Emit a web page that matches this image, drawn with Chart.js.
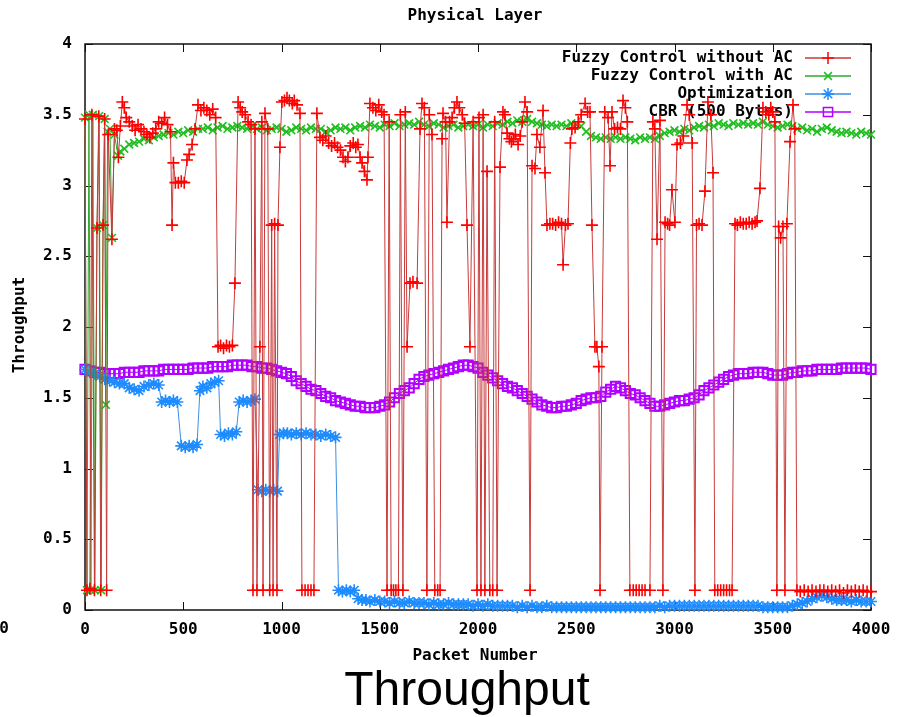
<!DOCTYPE html>
<html>
<head>
<meta charset="utf-8">
<script src="https://cdn.jsdelivr.net/npm/chart.js@4.4.0/dist/chart.umd.min.js"></script>
<style>
html, body { margin: 0; padding: 0; background: #fff; }
#wrap { width: 911px; height: 717px; }
</style>
</head>
<body>
<div id="wrap"><canvas id="chart" width="911" height="717"></canvas></div>
<script>
// tick values
const xTicks = [0, 500, 1000, 1500, 2000, 2500, 3000, 3500, 4000];
const yTicks = [0, 0.5, 1, 1.5, 2, 2.5, 3, 3.5, 4];

// Fuzzy Control without AC  [packet, throughput]
const fuzzyNoAC = [
  [0,3.47],[10,0.14],[25,0.15],[35,3.5],[48,0.14],[61,2.7],[70,3.49],[80,0.14],[92,2.72],[100,3.47],
  [110,0.14],[118,3.36],[137,2.62],[150,3.4],[162,3.39],[170,3.2],[180,3.42],[190,3.59],[200,3.55],[210,3.48],
  [225,3.45],[240,3.42],[255,3.39],[270,3.43],[285,3.4],[300,3.38],[315,3.36],[330,3.34],[345,3.37],[360,3.4],
  [375,3.45],[390,3.44],[405,3.48],[420,3.43],[435,3.38],[443,2.72],[450,3.16],[460,3.02],[475,3.02],[490,3.03],
  [505,3.02],[519,3.18],[530,3.22],[545,3.29],[560,3.4],[575,3.57],[590,3.53],[605,3.55],[620,3.53],[635,3.5],
  [650,3.54],[665,3.48],[677,1.86],[690,1.87],[705,1.85],[720,1.87],[735,1.86],[750,1.87],[763,2.31],[779,3.59],
  [790,3.55],[800,3.52],[815,3.5],[830,3.45],[845,3.43],[855,0.14],[865,3.4],[875,0.14],[890,1.86],[900,3.45],
  [906,0.14],[916,3.51],[930,3.4],[940,0.14],[950,2.72],[957,0.14],[965,2.73],[977,0.14],[982,2.72],[992,3.27],
  [1002,3.59],[1015,3.6],[1028,3.62],[1040,3.6],[1055,3.58],[1065,3.6],[1079,3.57],[1094,3.51],[1104,0.14],[1120,0.14],
  [1135,0.14],[1150,0.14],[1165,0.14],[1180,3.51],[1196,3.34],[1210,3.32],[1225,3.35],[1240,3.3],[1255,3.28],[1270,3.3],
  [1285,3.27],[1300,3.25],[1313,3.2],[1325,3.17],[1338,3.2],[1350,3.28],[1365,3.3],[1378,3.27],[1389,3.29],[1400,3.2],
  [1410,3.16],[1422,3.1],[1435,3.04],[1440,3.2],[1450,3.58],[1465,3.55],[1480,3.53],[1495,3.57],[1510,3.52],[1522,3.5],
  [1537,0.14],[1548,3.45],[1558,0.14],[1570,0.14],[1582,0.14],[1595,0.14],[1605,3.5],[1618,0.14],[1630,3.52],[1639,1.86],
  [1654,2.31],[1669,2.32],[1690,2.31],[1705,3.4],[1715,3.58],[1727,3.55],[1740,0.14],[1752,3.5],[1766,3.36],[1780,0.14],
  [1795,0.14],[1807,0.14],[1817,3.33],[1822,3.51],[1835,3.45],[1842,2.74],[1855,3.45],[1868,3.48],[1880,3.55],[1893,3.59],
  [1905,3.55],[1920,3.5],[1932,3.44],[1944,2.72],[1959,1.86],[1975,3.45],[1995,0.14],[2005,3.48],[2015,0.14],[2026,3.5],
  [2035,0.14],[2046,3.1],[2060,0.14],[2075,0.14],[2085,3.45],[2097,0.14],[2112,3.13],[2127,3.52],[2137,3.5],[2148,3.37],
  [2160,3.33],[2170,3.31],[2180,3.33],[2190,3.36],[2204,3.29],[2215,3.35],[2225,3.45],[2239,3.59],[2250,3.52],[2265,0.14],
  [2275,3.14],[2290,3.12],[2300,3.36],[2315,3.27],[2331,3.53],[2341,3.09],[2351,2.72],[2366,2.73],[2380,2.73],[2395,2.72],
  [2410,2.74],[2425,2.73],[2433,2.44],[2445,2.72],[2458,2.73],[2470,3.3],[2478,3.4],[2494,3.41],[2510,3.45],[2525,3.5],
  [2545,3.58],[2558,3.52],[2570,3.52],[2580,2.72],[2595,1.86],[2605,1.86],[2615,1.72],[2621,0.14],[2631,1.86],[2645,3.52],
  [2662,3.48],[2672,3.14],[2682,3.52],[2695,3.4],[2710,3.41],[2725,3.4],[2738,3.6],[2750,3.55],[2760,3.45],[2773,0.14],
  [2790,0.14],[2805,0.14],[2820,0.14],[2835,0.14],[2850,0.14],[2875,0.14],[2890,3.45],[2900,3.4],[2911,2.62],[2926,3.46],
  [2941,0.14],[2952,2.74],[2965,2.73],[2975,2.72],[2987,2.97],[3002,2.74],[3013,3.29],[3030,3.3],[3045,3.35],[3064,3.57],
  [3075,3.5],[3090,3.3],[3104,0.14],[3112,2.72],[3125,2.73],[3140,2.72],[3155,2.96],[3170,3.59],[3185,3.5],[3196,3.09],
  [3205,0.14],[3220,0.14],[3235,0.14],[3250,0.14],[3265,0.14],[3280,0.14],[3293,0.14],[3308,2.73],[3320,2.72],[3335,2.74],
  [3350,2.73],[3365,2.73],[3380,2.74],[3395,2.73],[3410,2.74],[3420,2.75],[3435,2.98],[3450,3.55],[3465,3.52],[3480,3.5],
  [3490,3.55],[3500,3.52],[3511,3.45],[3521,0.14],[3530,2.71],[3540,2.63],[3552,2.71],[3562,0.14],[3572,2.73],[3588,3.31],
  [3603,3.57],[3612,3.4],[3623,0.14],[3640,0.13],[3660,0.14],[3680,0.13],[3700,0.14],[3720,0.13],[3740,0.14],[3760,0.14],
  [3780,0.13],[3800,0.14],[3820,0.13],[3840,0.14],[3860,0.12],[3880,0.14],[3900,0.13],[3920,0.14],[3940,0.13],[3960,0.14],
  [3980,0.13],[4000,0.13]
];

// Fuzzy Control with AC
const fuzzyAC = [
  [0,3.48],[10,0.14],[20,3.5],[30,0.14],[40,3.5],[50,0.14],[61,2.7],[72,3.49],[82,0.14],[92,2.72],
  [100,3.47],[106,1.45],[115,3.38],[127,3.4],[137,2.63],[150,3.36],[168,3.21],[180,3.24],
  [200,3.26],[225,3.29],[250,3.3],[275,3.31],[300,3.33],[325,3.32],[350,3.34],[375,3.35],[400,3.36],[425,3.37],
  [450,3.36],[475,3.38],[500,3.37],[525,3.39],[550,3.38],[575,3.4],[600,3.4],[625,3.41],[650,3.39],[675,3.41],
  [700,3.42],[725,3.4],[750,3.41],[775,3.42],[800,3.41],[825,3.4],[850,3.42],[875,3.4],[900,3.41],[925,3.39],
  [950,3.4],[975,3.41],[1000,3.4],[1025,3.38],[1050,3.39],[1075,3.41],[1100,3.4],[1125,3.39],[1150,3.41],[1175,3.4],
  [1200,3.4],[1225,3.38],[1250,3.39],[1275,3.41],[1300,3.4],[1325,3.41],[1350,3.39],[1375,3.41],[1400,3.42],[1425,3.41],
  [1450,3.43],[1475,3.42],[1500,3.41],[1525,3.43],[1550,3.42],[1575,3.44],[1600,3.42],[1625,3.43],[1650,3.44],[1675,3.43],
  [1700,3.45],[1725,3.43],[1750,3.42],[1775,3.44],[1800,3.43],[1825,3.41],[1850,3.42],[1875,3.43],[1900,3.41],[1925,3.42],
  [1950,3.43],[1975,3.42],[2000,3.43],[2025,3.41],[2050,3.43],[2075,3.42],[2100,3.44],[2125,3.43],[2150,3.45],[2175,3.44],
  [2200,3.46],[2225,3.45],[2250,3.47],[2275,3.45],[2300,3.44],[2325,3.43],[2350,3.42],[2375,3.43],[2400,3.42],[2425,3.43],
  [2450,3.42],[2475,3.44],[2500,3.43],[2525,3.42],[2550,3.38],[2575,3.35],[2600,3.34],[2625,3.33],[2650,3.34],[2675,3.33],
  [2700,3.34],[2725,3.33],[2750,3.34],[2775,3.33],[2800,3.32],[2825,3.34],[2850,3.33],[2875,3.34],[2900,3.33],[2925,3.35],
  [2950,3.37],[2975,3.38],[3000,3.39],[3025,3.38],[3050,3.4],[3075,3.39],[3100,3.41],[3125,3.42],[3150,3.41],[3175,3.43],
  [3200,3.42],[3225,3.44],[3250,3.43],[3275,3.42],[3300,3.44],[3325,3.43],[3350,3.44],[3375,3.43],[3400,3.44],[3425,3.43],
  [3450,3.45],[3475,3.43],[3500,3.42],[3525,3.41],[3550,3.42],[3575,3.43],[3600,3.42],[3625,3.4],[3650,3.41],[3675,3.39],
  [3700,3.4],[3725,3.38],[3750,3.4],[3775,3.41],[3800,3.39],[3825,3.38],[3850,3.37],[3875,3.38],[3900,3.37],[3925,3.36],
  [3950,3.38],[3975,3.37],[4000,3.36]
];

// Optimization
const optimization = [
  [0,1.7],[25,1.68],[50,1.67],[75,1.65],[100,1.63],[125,1.62],[150,1.61],[175,1.6],[200,1.6],[225,1.57],
  [250,1.56],[275,1.55],[300,1.58],[325,1.59],[350,1.6],[375,1.59],[390,1.47],[410,1.48],[430,1.47],[450,1.48],
  [470,1.47],[490,1.16],[510,1.15],[530,1.16],[550,1.15],[570,1.17],[585,1.55],[600,1.58],[620,1.57],[640,1.6],
  [660,1.61],[680,1.62],[690,1.24],[710,1.23],[730,1.25],[750,1.24],[770,1.26],[785,1.47],[805,1.48],[825,1.47],
  [845,1.48],[865,1.49],[880,0.85],[900,0.84],[920,0.85],[940,0.84],[960,0.85],[980,0.84],[990,1.24],[1010,1.25],
  [1030,1.25],[1050,1.24],[1075,1.25],[1100,1.24],[1125,1.25],[1150,1.24],[1175,1.24],[1200,1.23],[1225,1.24],[1250,1.23],
  [1275,1.22],[1290,0.14],[1310,0.13],[1330,0.14],[1350,0.13],[1370,0.14],[1390,0.08],[1410,0.07],[1430,0.07],[1450,0.06],
  [1475,0.07],[1500,0.06],[1525,0.06],[1550,0.05],[1575,0.06],[1600,0.05],[1625,0.05],[1650,0.06],[1675,0.05],[1700,0.05],
  [1725,0.05],[1750,0.04],[1775,0.05],[1800,0.04],[1825,0.04],[1850,0.05],[1875,0.04],[1900,0.04],[1925,0.04],[1950,0.04],
  [1975,0.03],[2000,0.04],[2025,0.03],[2050,0.04],[2075,0.03],[2100,0.03],[2125,0.03],[2150,0.03],[2175,0.03],[2200,0.02],
  [2225,0.03],[2250,0.02],[2275,0.03],[2300,0.02],[2325,0.02],[2350,0.03],[2375,0.02],[2400,0.02],[2425,0.02],[2450,0.02],
  [2475,0.02],[2500,0.02],[2525,0.02],[2550,0.02],[2575,0.02],[2600,0.02],[2625,0.02],[2650,0.02],[2675,0.02],[2700,0.02],
  [2725,0.02],[2750,0.02],[2775,0.02],[2800,0.02],[2825,0.02],[2850,0.02],[2875,0.02],[2900,0.02],[2925,0.03],[2950,0.02],
  [2975,0.03],[3000,0.03],[3025,0.03],[3050,0.03],[3075,0.03],[3100,0.03],[3125,0.03],[3150,0.03],[3175,0.03],[3200,0.03],
  [3225,0.03],[3250,0.03],[3275,0.03],[3300,0.03],[3325,0.03],[3350,0.03],[3375,0.03],[3400,0.03],[3425,0.03],[3450,0.02],
  [3475,0.02],[3500,0.02],[3525,0.02],[3550,0.02],[3575,0.02],[3600,0.03],[3625,0.04],[3650,0.05],[3675,0.06],[3700,0.08],
  [3725,0.09],[3750,0.1],[3775,0.09],[3800,0.08],[3825,0.07],[3850,0.07],[3875,0.07],[3900,0.06],[3925,0.07],[3950,0.06],
  [3975,0.06],[4000,0.06]
];

// CBR (500 Bytes)
const cbr = [
  [0,1.7],[25,1.69],[50,1.68],[75,1.68],[100,1.67],[125,1.67],[150,1.67],[175,1.67],[200,1.68],[225,1.68],
  [250,1.68],[275,1.68],[300,1.69],[325,1.69],[350,1.69],[375,1.69],[400,1.7],[425,1.7],[450,1.7],[475,1.7],
  [500,1.7],[525,1.7],[550,1.71],[575,1.71],[600,1.71],[625,1.71],[650,1.72],[675,1.72],[700,1.72],[725,1.72],
  [750,1.73],[775,1.73],[800,1.73],[825,1.73],[850,1.72],[875,1.72],[900,1.71],[925,1.71],[950,1.7],[975,1.69],
  [1000,1.68],[1025,1.67],[1050,1.65],[1075,1.62],[1100,1.6],[1125,1.58],[1150,1.56],[1175,1.55],[1200,1.53],[1225,1.51],
  [1250,1.5],[1275,1.48],[1300,1.47],[1325,1.46],[1350,1.45],[1375,1.44],[1400,1.44],[1425,1.43],[1450,1.43],[1475,1.43],
  [1500,1.44],[1525,1.45],[1550,1.47],[1575,1.5],[1600,1.53],[1625,1.55],[1650,1.57],[1675,1.6],[1700,1.63],[1725,1.65],
  [1750,1.66],[1775,1.67],[1800,1.68],[1825,1.69],[1850,1.7],[1875,1.71],[1900,1.72],[1925,1.73],[1950,1.73],[1975,1.72],
  [2000,1.71],[2025,1.68],[2050,1.66],[2075,1.64],[2100,1.62],[2125,1.6],[2150,1.58],[2175,1.57],[2200,1.55],[2225,1.53],
  [2250,1.51],[2275,1.49],[2300,1.47],[2325,1.45],[2350,1.44],[2375,1.43],[2400,1.43],[2425,1.44],[2450,1.44],[2475,1.45],
  [2500,1.46],[2525,1.48],[2550,1.49],[2575,1.5],[2600,1.5],[2625,1.51],[2650,1.54],[2675,1.56],[2700,1.58],[2725,1.57],
  [2750,1.55],[2775,1.53],[2800,1.52],[2825,1.5],[2850,1.48],[2875,1.46],[2900,1.44],[2925,1.44],[2950,1.45],[2975,1.46],
  [3000,1.47],[3025,1.48],[3050,1.48],[3075,1.49],[3100,1.5],[3125,1.52],[3150,1.55],[3175,1.57],[3200,1.59],[3225,1.61],
  [3250,1.63],[3275,1.65],[3300,1.66],[3325,1.67],[3350,1.67],[3375,1.67],[3400,1.68],[3425,1.68],[3450,1.68],[3475,1.67],
  [3500,1.66],[3525,1.66],[3550,1.66],[3575,1.67],[3600,1.68],[3625,1.68],[3650,1.69],[3675,1.69],[3700,1.69],[3725,1.7],
  [3750,1.7],[3775,1.7],[3800,1.7],[3825,1.7],[3850,1.71],[3875,1.71],[3900,1.71],[3925,1.71],[3950,1.71],[3975,1.71],
  [4000,1.7]
];

const MONO = '"DejaVu Sans Mono", "Liberation Mono", monospace';

function toXY(pairs) {
    return pairs.map(p => ({ x: p[0], y: p[1] }));
}

const series = [
    { label: 'Fuzzy Control without AC', data: fuzzyNoAC, line: '#c83a3a', mark: '#ff0000', style: 'cross', r: 6, bw: 1.6 },
    { label: 'Fuzzy Control with AC', data: fuzzyAC, line: '#2fa82f', mark: '#1fbf1f', style: 'crossRot', r: 5.5, bw: 1.6 },
    { label: 'Optimization', data: optimization, line: '#3d8fe0', mark: '#1e8cff', style: 'star', r: 6, bw: 1.6 },
    { label: 'CBR (500 Bytes)', data: cbr, line: '#b000ff', mark: '#b000ff', style: 'rect', r: 6.5, bw: 2 }
];

// frame, inward ticks, key and the loose texts
const gnuplotLook = {
    id: 'gnuplotLook',
    beforeDatasetsDraw(chart) {
        const { ctx, chartArea: a, scales } = chart;
        ctx.save();
        ctx.strokeStyle = '#111';
        ctx.lineWidth = 1.5;
        ctx.strokeRect(a.left, a.top, a.right - a.left, a.bottom - a.top);
        ctx.lineWidth = 1;
        ctx.beginPath();
        xTicks.forEach(v => {
            const px = Math.round(scales.x.getPixelForValue(v)) + 0.5;
            ctx.moveTo(px, a.bottom); ctx.lineTo(px, a.bottom - 8);
            ctx.moveTo(px, a.top); ctx.lineTo(px, a.top + 8);
        });
        yTicks.forEach(v => {
            const py = Math.round(scales.y.getPixelForValue(v)) + 0.5;
            ctx.moveTo(a.left, py); ctx.lineTo(a.left + 8, py);
            ctx.moveTo(a.right, py); ctx.lineTo(a.right - 8, py);
        });
        ctx.stroke();

        // key
        ctx.font = 'bold 16px ' + MONO;
        ctx.textAlign = 'right';
        ctx.textBaseline = 'middle';
        series.forEach((s, i) => {
            const y = 58 + i * 18;
            ctx.fillStyle = '#000';
            ctx.fillText(s.label, 793, y);
            ctx.strokeStyle = s.line;
            ctx.lineWidth = 1.5;
            ctx.beginPath();
            ctx.moveTo(805, y); ctx.lineTo(851, y);
            ctx.stroke();
            ctx.strokeStyle = s.mark;
            ctx.fillStyle = 'rgba(0,0,0,0)';
            ctx.lineWidth = 1.5;
            Chart.helpers.drawPoint(ctx, { pointStyle: s.style, radius: s.r, rotation: 0, borderWidth: 1.5 }, 828, y);
        });
        ctx.restore();
    },
    afterDraw(chart) {
        const { ctx } = chart;
        ctx.save();
        ctx.fillStyle = '#000';
        ctx.font = 'bold 16px ' + MONO;
        ctx.textAlign = 'center';
        ctx.textBaseline = 'middle';
        ctx.fillText('Physical Layer', 475, 16);
        ctx.fillText('Packet Number', 475, 656);
        ctx.fillText('0', 4, 629);
        ctx.save();
        ctx.translate(20, 325);
        ctx.rotate(-Math.PI / 2);
        ctx.fillText('Throughput', 0, 0);
        ctx.restore();
        ctx.font = '48px "Liberation Sans", Arial, sans-serif';
        ctx.textBaseline = 'alphabetic';
        ctx.fillText('Throughput', 467, 705);
        ctx.restore();
    }
};

const ctx = document.getElementById('chart').getContext('2d');
const throughputChart = new Chart(ctx, {
    type: 'line',
    data: {
        datasets: series.map(s => ({
            label: s.label,
            data: toXY(s.data),
            borderColor: s.line,
            borderWidth: 1,
            pointStyle: s.style,
            pointRadius: s.r,
            pointBorderColor: s.mark,
            pointBackgroundColor: 'rgba(0,0,0,0)',
            pointBorderWidth: s.bw,
            tension: 0,
            fill: false,
            clip: 8
        }))
    },
    options: {
        responsive: false,
        animation: false,
        layout: { padding: { left: 0, top: 44, right: 40, bottom: 0 } },
        plugins: { legend: { display: false }, tooltip: { enabled: false } },
        scales: {
            x: {
                type: 'linear', min: 0, max: 4000,
                afterBuildTicks: s => { s.ticks = xTicks.map(v => ({ value: v })); },
                afterFit: s => { s.height = 107; },
                grid: { display: false, drawTicks: false },
                border: { display: false },
                ticks: {
                    color: '#000', padding: 10, maxRotation: 0, autoSkip: false,
                    font: { family: MONO, size: 16, weight: 'bold' },
                    callback: v => String(v)
                }
            },
            y: {
                type: 'linear', min: 0, max: 4,
                afterBuildTicks: s => { s.ticks = yTicks.map(v => ({ value: v })); },
                afterFit: s => { s.width = 85; },
                grid: { display: false, drawTicks: false },
                border: { display: false },
                ticks: {
                    color: '#000', padding: 13,
                    font: { family: MONO, size: 16, weight: 'bold' },
                    callback: v => String(v)
                }
            }
        }
    },
    plugins: [gnuplotLook]
});
</script>
</body>
</html>
